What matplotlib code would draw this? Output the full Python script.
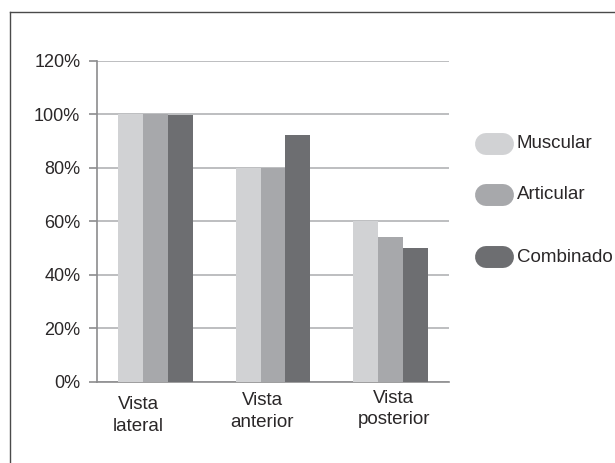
import numpy as np
import matplotlib
matplotlib.use("Agg")
import matplotlib.pyplot as plt
from matplotlib.lines import Line2D
from matplotlib.ticker import FuncFormatter

plt.rcParams['font.family'] = ['Liberation Sans', 'DejaVu Sans']

# data
categories = ["Vista\nlateral", "Vista\nanterior", "Vista\nposterior"]
series_names = ["Muscular", "Articular", "Combinado"]
muscular = [100, 80, 60]
articular = [100, 80, 54]
combinado = [99.5, 92.3, 50]
colors = ["#d1d2d4", "#a7a8ab", "#6d6e71"]

W, H = 615, 463
fig = plt.figure(figsize=(W / 100, H / 100), dpi=100)
ax = fig.add_axes([97 / W, 1 - 381.7 / H, (449 - 97) / W, (381.7 - 60.5) / H])

x = np.arange(len(categories))
bw = 0.213
for i, (vals, c) in enumerate(zip([muscular, articular, combinado], colors)):
    ax.bar(x + (i - 1) * bw, vals, width=bw, color=c, zorder=3)

ax.set_xlim(-0.5, len(categories) - 0.5)
ax.set_ylim(0, 120)
ax.set_yticks(np.arange(0, 121, 20))
ax.yaxis.set_major_formatter(FuncFormatter(lambda v, p: f"{v:.0f}%"))
ax.grid(axis="y", color="#bdbec0", linewidth=1.4, zorder=0)
ax.set_xticks([])

for s in ["top", "right"]:
    ax.spines[s].set_visible(False)
ax.spines["left"].set_color("#8c8c8e")
ax.spines["bottom"].set_color("#8c8c8e")
ax.spines["left"].set_linewidth(1.2)
ax.spines["bottom"].set_linewidth(1.2)
ax.tick_params(axis="y", length=6, width=1.2, color="#8c8c8e",
               labelsize=13, labelcolor="#2a2728", pad=6)

# category labels
offsets = [-0.15, -0.09, 0.03]
lift = [0.0, 0.012, 0.02]
for i, (lab, off) in enumerate(zip(categories, offsets)):
    ax.text(i + off, -0.045 + lift[i], lab, transform=ax.get_xaxis_transform(),
            ha="center", va="top", fontsize=13.5, color="#2a2728",
            linespacing=1.35)

# legend as rounded pills
leg_y = [144, 195, 257]
for name, c, yy in zip(series_names, colors, leg_y):
    fy = 1 - yy / H
    fig.add_artist(Line2D([486 / W, 503 / W], [fy, fy], transform=fig.transFigure,
                          color=c, linewidth=15.8, solid_capstyle="round"))
    fig.text(517 / W, fy, name, ha="left", va="center", fontsize=13.5,
             color="#2a2728")

# outer frame (left and top edges)
fig.add_artist(Line2D([10 / W, 10 / W], [0, 1 - 12 / H], transform=fig.transFigure,
                      color="#4a4a4a", linewidth=1))
fig.add_artist(Line2D([10 / W, 1], [1 - 12 / H, 1 - 12 / H], transform=fig.transFigure,
                      color="#4a4a4a", linewidth=1))

fig.savefig("out.png", dpi=100)
